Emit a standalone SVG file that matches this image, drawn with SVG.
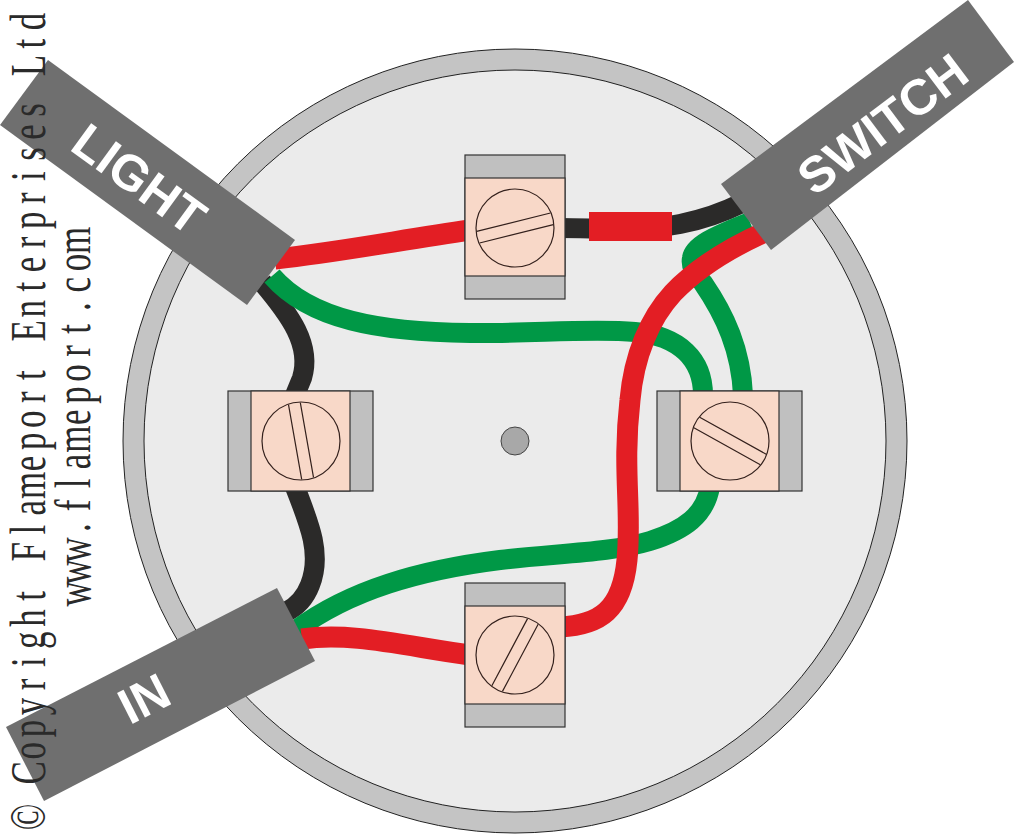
<svg xmlns="http://www.w3.org/2000/svg" width="1014" height="834" viewBox="0 0 1014 834">
<style>
.band{fill:#c0c0c0;stroke:#333;stroke-width:1.2}
.body{fill:#f8d8c8;stroke:#333;stroke-width:1.2}
.screw{fill:#f8d8c8;stroke:#33201c;stroke-width:1.2}
.slot{fill:none;stroke:#33201c;stroke-width:1.2}
.w{fill:none;stroke-width:20}
.k{stroke:#2b2a29}.g{stroke:#009846}.r{stroke:#e31e24;stroke-width:21}
.cable{fill:#6f6f6f}
.lab{font-family:"Liberation Sans",Arial,sans-serif;font-weight:700;font-size:50px;fill:#fff;text-anchor:middle}
.copy{font-family:"Liberation Serif","Times New Roman",serif;font-size:50px;fill:#2a2a2a;text-anchor:middle}
</style>
<g id="box">
<circle cx="515" cy="441" r="392" fill="#c4c4c4" stroke="#222" stroke-width="1"/>
<circle cx="515" cy="441" r="371" fill="#ebebeb" stroke="#222" stroke-width="1"/>
<circle cx="515" cy="441" r="14" fill="#a8a8a8" stroke="#444" stroke-width="1"/>
</g>
<g id="connectors">
<path class="w k" d="M262 282C290 315 312 345 302 378L295 395"/>
<path class="w k" d="M295 487C310 525 322 555 310 585C305 598 298 606 286 612"/>
<path class="w k" d="M560 228C600 228 640 232 680 224C705 219 722 213 742 203"/>
<path class="w g" d="M272 276C310 320 380 332 470 333C530 334 590 328 635 332C680 336 703 360 703 395"/>
<path class="w g" d="M743 395C741 350 725 315 703 283C697 275 690 268 692 258C694 246 712 237 750 222"/>
<path class="w g" d="M296 630C350 590 420 570 500 560C560 553 610 553 650 541C685 530 705 515 710 487"/>
<path class="w r" d="M275 259C340 252 400 240 470 230"/>
<path class="w r" d="M302 639C350 632 400 645 470 655"/>
<path class="w r" d="M560 627C600 625 622 610 627 560C632 510 622 470 630 400C634 355 650 318 673 293C695 270 725 250 765 232"/>
<rect x="589" y="212" width="83" height="29" fill="#e31e24"/>
</g>
<g id="cable-light"><polygon class="cable" points="48,60 295,240 247,305 0,125"/><text class="lab" transform="translate(129,193) rotate(36)">LIGHT</text></g>
<g id="cable-switch"><polygon class="cable" points="721,184 968,0 1014,62 771,250"/><text class="lab" transform="translate(893,138) rotate(-37)">SWITCH</text></g>
<g id="cable-in"><polygon class="cable" points="277,588 315,661 44,801 6,727"/><text class="lab" transform="translate(152,714) rotate(-27)">IN</text></g>
<g id="terminal-top">
<rect class="band" x="465" y="155" width="100" height="144"/><rect class="body" x="465" y="178" width="100" height="98"/>
<circle class="screw" cx="515" cy="228" r="39"/>
<g transform="rotate(-14 515 228)"><path class="slot" d="M477 222H553M477 234H553"/></g>
</g>
<g id="terminal-left">
<rect class="band" x="228" y="391" width="145" height="100"/><rect class="body" x="251" y="391" width="99" height="100"/>
<circle class="screw" cx="301" cy="441" r="39"/>
<g transform="rotate(80 301 441)"><path class="slot" d="M263 435H339M263 447H339"/></g>
</g>
<g id="terminal-right">
<rect class="band" x="657" y="391" width="145" height="100"/><rect class="body" x="680" y="391" width="99" height="100"/>
<circle class="screw" cx="730" cy="441" r="39"/>
<g transform="rotate(29 730 441)"><path class="slot" d="M692 435H768M692 447H768"/></g>
</g>
<g id="terminal-bottom">
<rect class="band" x="465" y="583" width="100" height="144"/><rect class="body" x="465" y="606" width="100" height="98"/>
<circle class="screw" cx="515" cy="655" r="39"/>
<g transform="rotate(-62 515 655)"><path class="slot" d="M477 649H553M477 661H553"/></g>
</g>
<g id="copyright">
<text class="copy" transform="translate(45,828) rotate(-90) scale(.7,1)" x="15.8 47.4 78.9 110.5 142.1 173.6 205.2 236.8 268.3 299.9 331.5 363 394.6 426.2 457.7 489.3 520.9 552.4 584 615.6 647.1 678.7 710.3 741.8 773.4 805 836.5 868.1 899.7 931.2 962.8 994.4 1025.9 1057.5 1089.1 1120.6 1152.2">© Copyright Flameport Enterprises Ltd</text>
<text class="copy" transform="translate(90,605) rotate(-90) scale(.7,1)" x="15.8 47.4 78.9 110.5 142.1 173.6 205.2 236.8 268.3 299.9 331.5 363 394.6 426.2 457.7 489.3 520.9">www.flameport.com</text>
</g>
</svg>
